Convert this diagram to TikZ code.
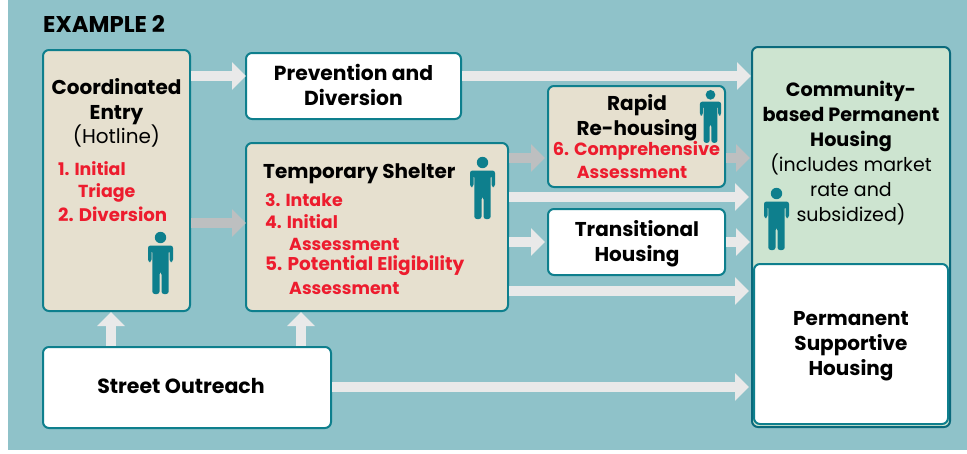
\documentclass[tikz,border=0pt]{standalone}
\usepackage{fontspec}
\setmainfont{Poppins}
\usepackage{tikz}
\usetikzlibrary{arrows.meta}
\usetikzlibrary{calc}
\definecolor{sea}{HTML}{8FC2C9}
\definecolor{rim}{HTML}{0E7F8D}
\definecolor{deeprim}{HTML}{0B6A7C}
\definecolor{sand}{HTML}{E6E0CF}
\definecolor{mint}{HTML}{CDE4D0}
\definecolor{alarm}{HTML}{ED1C2E}
\definecolor{pale}{HTML}{E9E9E9}
\definecolor{ash}{HTML}{BDBFC0}
\tikzstyle{box}=[draw=rim,line width=2pt,rounded corners=6pt,inner sep=0,fill=white]
\tikzstyle{sandbox}=[box,fill=sand]
\tikzstyle{head}=[font=\fontsize{20}{25}\selectfont\bfseries,text=black,align=center,inner sep=0]
\tikzstyle{plain}=[font=\fontsize{19}{25}\selectfont,text=black,align=center,inner sep=0]
\tikzstyle{redtxt}=[font=\fontsize{17.4}{22}\selectfont\bfseries,text=alarm,anchor=west,inner sep=0]
\tikzstyle{flow}=[draw=pale,line width=10pt,-{Triangle[length=14pt,width=27pt]}]
\tikzstyle{ashflow}=[flow,draw=ash]
\tikzset{person/.pic={
  \fill[rim] (0,-25.5) circle (5.7);
  \fill[rim,rounded corners=2.5pt] (-12.5,-1) -- (-12.5,-17.5) -- (12.5,-17.5) -- (12.5,-1) -- (9,-1) -- (9,-13) -- (8.2,-13) -- (8.2,9) -- (8.2,31) -- (1,31) -- (1,9) -- (-1,9) -- (-1,31) -- (-8.2,31) -- (-8.2,-13) -- (-9,-13) -- (-9,-1) -- cycle;
}}
\begin{document}
\begin{tikzpicture}[x=1pt,y=-1pt]
\useasboundingbox (0,0) rectangle (967,453);
\fill[sea] (8,0) rectangle (967,450);
\node[font=\fontsize{22.8}{24}\selectfont\bfseries,anchor=west,inner sep=0] (title) at (43,23.5) {EXAMPLE 2};

\node[sandbox,minimum width=147pt,minimum height=261pt] (entry) at (116.5,180.5) {};
\node[box,minimum width=215pt,minimum height=66pt] (prevent) at (353.5,86) {};
\node[sandbox,minimum width=262pt,minimum height=168pt] (shelter) at (377,227) {};
\node[sandbox,minimum width=177pt,minimum height=101pt] (rapid) at (636.5,136.5) {};
\node[box,minimum width=177pt,minimum height=66pt] (trans) at (636.5,242) {};
\node[box,draw=deeprim,fill=mint,minimum width=198pt,minimum height=380pt] (housing) at (851,237) {};
\node[box,minimum width=194pt,minimum height=160pt] (support) at (851,344) {};
\node[box,minimum width=288pt,minimum height=81pt] (street) at (187,387.5) {};

% rows of the long arrows
\coordinate (rowp) at (0,76);
\coordinate (rowa) at (0,158);
\coordinate (rowb) at (0,197);
\coordinate (rowc) at (0,291);
\coordinate (rowd) at (0,223);
\coordinate (rowe) at (0,387);
\coordinate (colh) at (111,0);
\coordinate (cols) at (301,0);

\draw[flow] (entry.east |- rowp) -- ([xshift=1pt]prevent.west |- rowp);
\draw[ashflow] (entry.east |- rowd) -- ([xshift=1pt]shelter.west |- rowd);
\draw[flow] (prevent.east |- rowp) -- (housing.west |- rowp);
\draw[ashflow] (shelter.east |- rowa) -- ([xshift=-2pt]rapid.west |- rowa);
\draw[ashflow] (rapid.east |- rowa) -- ([xshift=-1pt]housing.west |- rowa);
\draw[flow] (shelter.east |- rowb) -- ([xshift=-2pt]housing.west |- rowb);
\draw[flow] (shelter.east |- trans.west) -- ([xshift=-2pt]trans.west);
\draw[flow] (trans.east) -- ([xshift=-1pt]housing.west |- trans.east);
\draw[flow] (shelter.east |- rowc) -- ([xshift=-2pt]housing.west |- rowc);
\draw[flow] (street.east |- rowe) -- ([xshift=-2pt]housing.west |- rowe);
\draw[flow] (colh |- street.north) -- (colh |- entry.south);
\draw[flow] (cols |- street.north) -- (cols |- shelter.south);

\node[head] (entrytxt) at (116.5,102) {Coordinated\\Entry};
\node[plain,font=\fontsize{20}{25}\selectfont] (hotline) at (116.5,136.5) {(Hotline)};
\node[redtxt] (ra) at (58,169) {1. Initial};
\node[redtxt] (rb) at (78,193) {Triage};
\node[redtxt,font=\fontsize{18.2}{22}\selectfont\bfseries] (rc) at (58,214.5) {2. Diversion};
\node[head,font=\fontsize{20.3}{25}\selectfont\bfseries] (preventtxt) at (353.5,85) {Prevention and\\Diversion};
\node[head,anchor=west] (sheltertxt) at (263,174) {Temporary Shelter};
\node[redtxt] (rd) at (265,200) {3. Intake};
\node[redtxt] (re) at (265,222) {4. Initial};
\node[redtxt] (rf) at (289,244) {Assessment};
\node[redtxt,font=\fontsize{18.5}{22}\selectfont\bfseries] (rg) at (265,266) {5. Potential Eligibility};
\node[redtxt] (rh) at (289,288) {Assessment};
\node[head] (rapidtxt) at (637,117.5) {Rapid\\Re-housing};
\node[redtxt,anchor=center,font=\fontsize{17.7}{22}\selectfont\bfseries] (ri) at (636.5,150.5) {6. Comprehensive};
\node[redtxt,anchor=center] (rj) at (632,172) {Assessment};
\node[head] (transtxt) at (637,244) {Transitional\\Housing};
\node[head,font=\fontsize{19.2}{25}\selectfont\bfseries] (housingtxt) at (851,116.5) {Community-\\based Permanent\\Housing};
\node[plain] (housingsub) at (851,189.5) {(includes market\\rate and\\subsidized)};
\node[head] (supporttxt) at (851,346.5) {Permanent\\Supportive\\Housing};
\node[head,font=\fontsize{20.5}{25}\selectfont\bfseries] (streettxt) at (181,386) {Street Outreach};

\pic at (160.5,263) {person};
\pic at (482.5,188) {person};
\pic[scale=0.85] at (710.5,116.5) {person};
\pic at (776.5,219) {person};
\end{tikzpicture}
\end{document}
